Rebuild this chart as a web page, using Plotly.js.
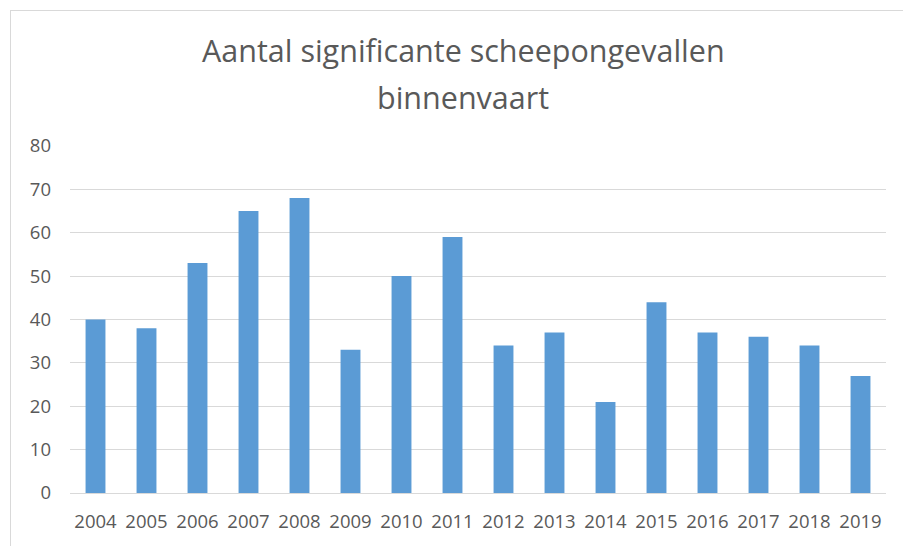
<!DOCTYPE html>
<html>
<head>
<meta charset="utf-8">
<script src="https://cdn.plot.ly/plotly-3.0.1.min.js"></script>
<style>
  body { margin: 0; background: #fff; overflow: hidden; }
  #frame { position: absolute; left: 10px; top: 10px; width: 893px; height: 536px;
           border-left: 1px solid #d9d9d9; border-top: 1px solid #d9d9d9; }
  #graph { width: 892px; height: 535px; }
</style>
</head>
<body>
<div id="frame"><div id="graph"></div></div>
<script>
// jaren en aantal ongevallen
var years = ['2004', '2005', '2006', '2007', '2008', '2009', '2010', '2011',
             '2012', '2013', '2014', '2015', '2016', '2017', '2018', '2019'];
var accidents = [40, 38, 53, 65, 68, 33, 50, 59, 34, 37, 21, 44, 37, 36, 34, 27];
var yTicks = [0, 10, 20, 30, 40, 50, 60, 70, 80];
var titleLines = ['Aantal significante scheepongevallen', 'binnenvaart'];

var textColor = '#595959';

var trace = {
  type: 'bar',
  x: years,
  y: accidents,
  marker: { color: '#5b9bd5' },
  hoverinfo: 'x+y'
};

// title as two annotations so the line spacing matches
var titleFont = { family: 'Open Sans, sans-serif', size: 30.5, color: textColor, weight: 400 };
var annotations = [
  { text: titleLines[0], xref: 'paper', yref: 'paper', x: 0.482, y: 1.277,
    xanchor: 'center', yanchor: 'middle', showarrow: false, font: titleFont },
  { text: titleLines[1], xref: 'paper', yref: 'paper', x: 0.482, y: 1.141,
    xanchor: 'center', yanchor: 'middle', showarrow: false, font: titleFont }
];

var layout = {
  width: 892,
  height: 535,
  margin: { l: 59, r: 17, t: 135, b: 53 },
  paper_bgcolor: '#fff',
  plot_bgcolor: '#fff',
  font: { family: 'Open Sans, sans-serif', color: textColor },
  annotations: annotations,
  bargap: 0.61,
  showlegend: false,
  xaxis: {
    type: 'category',
    tickfont: { size: 18.5, color: textColor },
    showgrid: false,
    showline: true,
    linecolor: '#d9d9d9',
    linewidth: 1,
    ticks: '',
    ticklabelstandoff: 12
  },
  yaxis: {
    range: [0, 80],
    tickvals: yTicks,
    tickfont: { size: 18.5, color: textColor },
    showgrid: true,
    gridcolor: '#d9d9d9',
    gridwidth: 1,
    zeroline: false,
    showline: false,
    ticks: '',
    ticklabelstandoff: 18
  }
};

Plotly.newPlot('graph', [trace], layout, { displayModeBar: false, staticPlot: true });
</script>
</body>
</html>
